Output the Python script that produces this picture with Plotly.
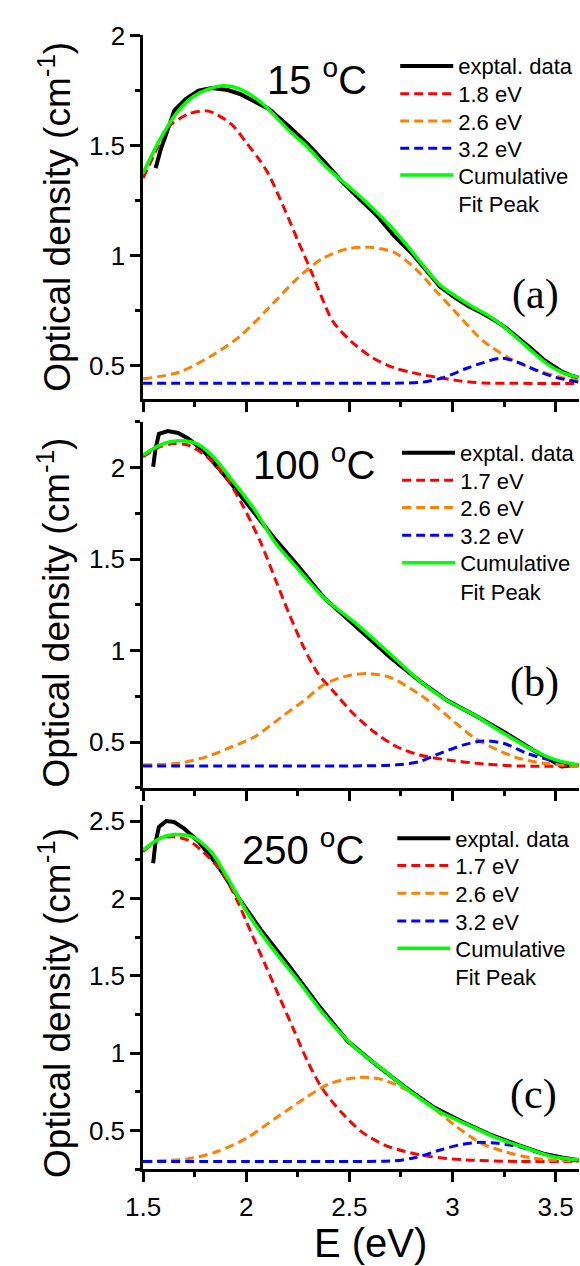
import plotly.graph_objects as go

FONT = "Liberation Sans, Arial, sans-serif"
SERIF = "Liberation Serif, Times New Roman, serif"

# ---------------- tick labels ----------------
E_TICKVALS = [1.5, 2.0, 2.5, 3.0, 3.5]
E_TICKTEXT = ["1.5", "2", "2.5", "3", "3.5"]
A_YTICKS = [0.5, 1.0, 1.5, 2.0]
B_YTICKS = [0.5, 1.0, 1.5, 2.0]
C_YTICKS = [0.5, 1.0, 1.5, 2.0, 2.5]

# ---------------- panel (a) 15 C ----------------
a_exp_E = [1.561, 1.585, 1.613, 1.652, 1.707, 1.769, 1.832, 1.91, 1.97, 2.05, 2.11, 2.21, 2.30, 2.378,
           2.46, 2.54, 2.63, 2.72, 2.80, 2.87, 2.94, 3.01, 3.08, 3.14, 3.20, 3.26, 3.32, 3.38, 3.44,
           3.49, 3.53, 3.57, 3.61]
a_exp_OD = [1.397, 1.48, 1.554, 1.66, 1.711, 1.749, 1.761, 1.752, 1.734, 1.696, 1.666, 1.584, 1.505, 1.427,
            1.34, 1.265, 1.185, 1.085, 1.012, 0.935, 0.858, 0.81, 0.768, 0.74, 0.708, 0.67, 0.626, 0.578,
            0.528, 0.495, 0.472, 0.456, 0.444]
a_p1_E = [1.5, 1.58, 1.613, 1.722, 1.816, 1.925, 2.003, 2.06, 2.108, 2.186, 2.247, 2.316, 2.368, 2.42,
          2.507, 2.611, 2.715, 2.802, 2.923, 3.027, 3.149, 3.3, 3.45, 3.61]
a_p1_OD = [1.352, 1.51, 1.577, 1.644, 1.656, 1.599, 1.51, 1.44, 1.37, 1.21, 1.075, 0.925, 0.805, 0.70,
           0.611, 0.536, 0.49, 0.468, 0.446, 0.431, 0.42, 0.419, 0.418, 0.418]
a_p2_E = [1.5, 1.674, 1.83, 1.97, 2.108, 2.247, 2.368, 2.49, 2.60, 2.715, 2.82, 2.923, 3.027, 3.149,
          3.27, 3.39, 3.53, 3.61]
a_p2_OD = [0.439, 0.469, 0.543, 0.633, 0.76, 0.895, 0.985, 1.03, 1.037, 1.015, 0.94, 0.835, 0.73, 0.611,
           0.536, 0.484, 0.446, 0.43]
a_p3_E = [1.5, 2.0, 2.5, 2.75, 2.855, 2.96, 3.06, 3.149, 3.235, 3.32, 3.41, 3.5, 3.61]
a_p3_OD = [0.419, 0.419, 0.419, 0.42, 0.424, 0.446, 0.484, 0.513, 0.533, 0.513, 0.476, 0.446, 0.424]
a_fit_E = [1.5, 1.58, 1.66, 1.739, 1.816, 1.894, 1.97, 2.08, 2.206, 2.30, 2.385, 2.541, 2.697, 2.80,
           2.87, 2.94, 3.08, 3.18, 3.25, 3.32, 3.39, 3.46, 3.53, 3.61]
a_fit_OD = [1.374, 1.524, 1.644, 1.719, 1.756, 1.771, 1.756, 1.689, 1.569, 1.49, 1.404, 1.277, 1.135,
            1.022, 0.94, 0.865, 0.776, 0.723, 0.675, 0.618, 0.56, 0.506, 0.469, 0.446]

# ---------------- panel (b) 100 C ----------------
b_exp_E = [1.549, 1.56, 1.577, 1.62, 1.67, 1.72, 1.79, 1.90, 2.02, 2.14, 2.25, 2.38, 2.54, 2.70, 2.84,
           2.975, 3.11, 3.25, 3.39, 3.48, 3.53, 3.57, 3.61]
b_exp_OD = [2.005, 2.10, 2.185, 2.20, 2.189, 2.158, 2.095, 1.951, 1.78, 1.609, 1.465, 1.285, 1.123, 0.961,
            0.835, 0.727, 0.646, 0.556, 0.457, 0.403, 0.367, 0.372, 0.376]
b_p1_E = [1.5, 1.58, 1.65, 1.72, 1.81, 1.90, 1.985, 2.07, 2.14, 2.21, 2.28, 2.35, 2.42, 2.52, 2.63,
          2.73, 2.84, 2.975, 3.15, 3.32, 3.61]
b_p1_OD = [2.059, 2.113, 2.131, 2.122, 2.059, 1.951, 1.789, 1.591, 1.393, 1.195, 1.015, 0.871, 0.781,
           0.655, 0.547, 0.475, 0.43, 0.403, 0.381, 0.37, 0.37]
b_p2_E = [1.5, 1.674, 1.81, 1.93, 2.04, 2.17, 2.28, 2.38, 2.49, 2.59, 2.70, 2.80, 2.905, 3.01, 3.11,
          3.22, 3.32, 3.44, 3.61]
b_p2_OD = [0.376, 0.385, 0.421, 0.475, 0.529, 0.637, 0.727, 0.817, 0.862, 0.875, 0.853, 0.79, 0.709,
           0.61, 0.52, 0.457, 0.412, 0.385, 0.37]
b_p3_E = [1.5, 2.0, 2.5, 2.73, 2.84, 2.94, 3.05, 3.15, 3.25, 3.36, 3.47, 3.61]
b_p3_OD = [0.37, 0.37, 0.37, 0.376, 0.394, 0.439, 0.484, 0.507, 0.493, 0.439, 0.403, 0.376]
b_fit_E = [1.5, 1.58, 1.67, 1.76, 1.84, 1.93, 2.04, 2.14, 2.25, 2.38, 2.54, 2.70, 2.84, 2.975, 3.11,
           3.25, 3.39, 3.5, 3.61]
b_fit_OD = [2.068, 2.122, 2.146, 2.131, 2.059, 1.933, 1.771, 1.591, 1.447, 1.285, 1.141, 0.979, 0.835,
            0.727, 0.646, 0.547, 0.457, 0.403, 0.376]

# ---------------- panel (c) 250 C ----------------
c_exp_E = [1.549, 1.56, 1.577, 1.612, 1.65, 1.70, 1.77, 1.86, 1.97, 2.07, 2.21, 2.35, 2.49, 2.63, 2.77,
           2.91, 3.05, 3.18, 3.32, 3.44, 3.53, 3.61]
c_exp_OD = [2.227, 2.36, 2.462, 2.50, 2.494, 2.451, 2.366, 2.217, 1.99, 1.80, 1.56, 1.31, 1.08, 0.925,
            0.78, 0.65, 0.555, 0.475, 0.405, 0.35, 0.325, 0.308]
c_p1_E = [1.5, 1.58, 1.65, 1.72, 1.79, 1.88, 1.95, 2.02, 2.09, 2.16, 2.23, 2.30, 2.37, 2.46, 2.56,
          2.67, 2.77, 2.89, 3.06, 3.32, 3.61]
c_p1_OD = [2.302, 2.387, 2.398, 2.376, 2.302, 2.174, 2.004, 1.791, 1.578, 1.365, 1.152, 0.939, 0.768,
           0.619, 0.491, 0.406, 0.364, 0.332, 0.31, 0.30, 0.30]
c_p2_E = [1.5, 1.72, 1.86, 2.00, 2.14, 2.28, 2.40, 2.54, 2.65, 2.77, 2.89, 3.01, 3.14, 3.25, 3.39, 3.61]
c_p2_OD = [0.30, 0.317, 0.364, 0.449, 0.577, 0.704, 0.80, 0.843, 0.832, 0.768, 0.662, 0.534, 0.417,
           0.364, 0.321, 0.30]
c_p3_E = [1.5, 2.0, 2.5, 2.72, 2.82, 2.94, 3.03, 3.12, 3.22, 3.32, 3.43, 3.53, 3.61]
c_p3_OD = [0.30, 0.30, 0.30, 0.304, 0.325, 0.374, 0.406, 0.423, 0.417, 0.396, 0.353, 0.321, 0.304]
c_fit_E = [1.5, 1.58, 1.65, 1.74, 1.83, 1.91, 2.00, 2.11, 2.25, 2.385, 2.52, 2.66, 2.80, 2.94, 3.08,
           3.22, 3.36, 3.48, 3.61]
c_fit_OD = [2.313, 2.387, 2.413, 2.398, 2.302, 2.132, 1.919, 1.706, 1.471, 1.237, 1.045, 0.896, 0.747,
            0.619, 0.534, 0.449, 0.385, 0.332, 0.311]

A_NAMES = ["exptal. data", "1.8 eV", "2.6 eV", "3.2 eV", "Cumulative<br>Fit Peak"]
B_NAMES = ["exptal. data", "1.7 eV", "2.6 eV", "3.2 eV", "Cumulative<br>Fit Peak"]
C_NAMES = ["exptal. data", "1.7 eV", "2.6 eV", "3.2 eV", "Cumulative<br>Fit Peak"]
TEMPS = ["15 <sup>o</sup>C", "100 <sup>o</sup>C", "250 <sup>o</sup>C"]
LETTERS = ["(a)", "(b)", "(c)"]

COLORS = ["#000000", "#FF0000", "#FF8000", "#0000FF", "#00FF00"]

E_RANGE = [1.5, 3.613]
X_DOMAIN = [0.2229, 1.0]

panels = [
    dict(x="x", y="y", dom=[0.69313, 0.98365], yr=[0.348, 2.0], yt=A_YTICKS, names=A_NAMES,
         data=[(a_exp_E, a_exp_OD), (a_p1_E, a_p1_OD), (a_p2_E, a_p2_OD), (a_p3_E, a_p3_OD), (a_fit_E, a_fit_OD)],
         legx=390, rows=[51.7, 80, 107.5, 135, 162.5], temp=(309, 62.8), letter=(535, 283), ytitle=204.5),
    dict(x="x2", y="y2", dom=[0.38215, 0.6748], yr=[0.25, 2.25], yt=B_YTICKS, names=B_NAMES,
         data=[(b_exp_E, b_exp_OD), (b_p1_E, b_p1_OD), (b_p2_E, b_p2_OD), (b_p3_E, b_p3_OD), (b_fit_E, b_fit_OD)],
         legx=392, rows=[443.3, 471, 498.5, 526.7, 555], temp=(306, 452.8), letter=(534.5, 675), ytitle=605),
    dict(x="x3", y="y3", dom=[0.07741, 0.36864], yr=[0.25, 2.605], yt=C_YTICKS, names=C_NAMES,
         data=[(c_exp_E, c_exp_OD), (c_p1_E, c_p1_OD), (c_p2_E, c_p2_OD), (c_p3_E, c_p3_OD), (c_fit_E, c_fit_OD)],
         legx=387, rows=[833.3, 861, 889, 917, 945], temp=(295, 841.7), letter=(533, 1092), ytitle=1000),
]

W, H = 580, 1266
fig = go.Figure()

tickfont = dict(family=FONT, size=26, color="black")
base = dict(showline=True, linecolor="black", linewidth=2.5, showgrid=False, zeroline=False,
            tickcolor="black", tickwidth=2.5, ticklen=10, tickfont=tickfont)

layout = dict(width=W, height=H, autosize=False, margin=dict(l=0, r=0, t=0, b=0),
              paper_bgcolor="white", plot_bgcolor="white", showlegend=True)

annotations = []
leg_count = 0
for k, p in enumerate(panels):
    for i, ((xs, ys), name) in enumerate(zip(p["data"], p["names"])):
        if i == 0:
            line = dict(color=COLORS[i], width=4)
        elif i == 4:
            line = dict(color=COLORS[i], width=3.5, shape="spline", smoothing=0.8)
        else:
            line = dict(color=COLORS[i], width=3, dash="9px,5px", shape="spline", smoothing=0.8)
        leg_count += 1
        leg = "legend" if leg_count == 1 else f"legend{leg_count}"
        fig.add_trace(go.Scatter(x=xs, y=ys, mode="lines", name=name, line=line,
                                 xaxis=p["x"], yaxis=p["y"], legend=leg, hoverinfo="skip"))
        row_y = p["rows"][i]
        if "<br>" in name:
            row_y += 14.3  # centre of a two-line entry sits half a line below its first line
        layout[leg] = dict(x=p["legx"] / W, y=1 - row_y / H, xref="paper", yref="paper",
                           xanchor="left", yanchor="middle", bgcolor="rgba(0,0,0,0)", borderwidth=0,
                           valign="top", itemwidth=53, tracegroupgap=0,
                           font=dict(family=FONT, size=22, color="black"))

for k, p in enumerate(panels):
    n = k + 1
    xname = "xaxis" if n == 1 else f"xaxis{n}"
    yname = "yaxis" if n == 1 else f"yaxis{n}"
    ysuffix = "" if n == 1 else str(n)
    layout[xname] = dict(base, domain=X_DOMAIN, range=E_RANGE, anchor="y" + ysuffix,
                         ticks="outside", tickvals=E_TICKVALS, ticktext=E_TICKTEXT,
                         showticklabels=(n == 3), ticklabelstandoff=3,
                         minor=dict(ticks="outside", ticklen=5, tickwidth=2.5, tickcolor="black",
                                    dtick=0.25, tick0=0))
    layout[yname] = dict(base, domain=p["dom"], range=p["yr"], anchor="x" + ysuffix,
                         ticks="outside", tickvals=p["yt"], ticktext=[f"{v:g}" for v in p["yt"]],
                         minor=dict(ticks="outside", ticklen=5, tickwidth=2.5, tickcolor="black",
                                    dtick=0.25, tick0=0))
    # top axis with inward ticks
    layout[f"xaxis{n + 3}"] = dict(base, range=E_RANGE, overlaying="x" + ysuffix, anchor="y" + ysuffix,
                                   side="top", ticks="inside", ticklen=10, tickvals=E_TICKVALS,
                                   showticklabels=False,
                                   minor=dict(ticks="inside", ticklen=5, tickwidth=2.5, tickcolor="black",
                                              dtick=0.25, tick0=0))
    # right axis: inward ticks at the image edge
    layout[f"yaxis{n + 3}"] = dict(base, range=p["yr"], overlaying="y" + ysuffix, anchor="x" + ysuffix,
                                   side="right", showline=False, ticks="inside", ticklen=6,
                                   tickvals=p["yt"], showticklabels=False)
    tx, ty = p["temp"]
    annotations.append(dict(text=TEMPS[k], x=tx / W, y=1 - ty / H, xref="paper", yref="paper",
                            xanchor="center", yanchor="middle", showarrow=False,
                            font=dict(family=FONT, size=40, color="black")))
    lx2, ly2 = p["letter"]
    annotations.append(dict(text=LETTERS[k], x=lx2 / W, y=1 - ly2 / H, xref="paper", yref="paper",
                            xanchor="center", yanchor="middle", showarrow=False,
                            font=dict(family=SERIF, size=42, color="black")))
    annotations.append(dict(text="Optical density (cm<sup>-1</sup>)", x=38 / W, y=1 - p["ytitle"] / H,
                            xref="paper", yref="paper", xanchor="center", yanchor="middle",
                            textangle=-90, showarrow=False,
                            font=dict(family=FONT, size=37, color="black")))

annotations.append(dict(text="E (eV)", x=364 / W, y=1 - 1243 / H, xref="paper", yref="paper",
                        xanchor="center", yanchor="middle", showarrow=False,
                        font=dict(family=FONT, size=40, color="black")))
layout["annotations"] = annotations

fig.update_layout(**layout)
fig.write_html("out.html", config={"displayModeBar": False},
               post_script="document.body.style.margin='0';document.body.style.overflow='hidden';")
